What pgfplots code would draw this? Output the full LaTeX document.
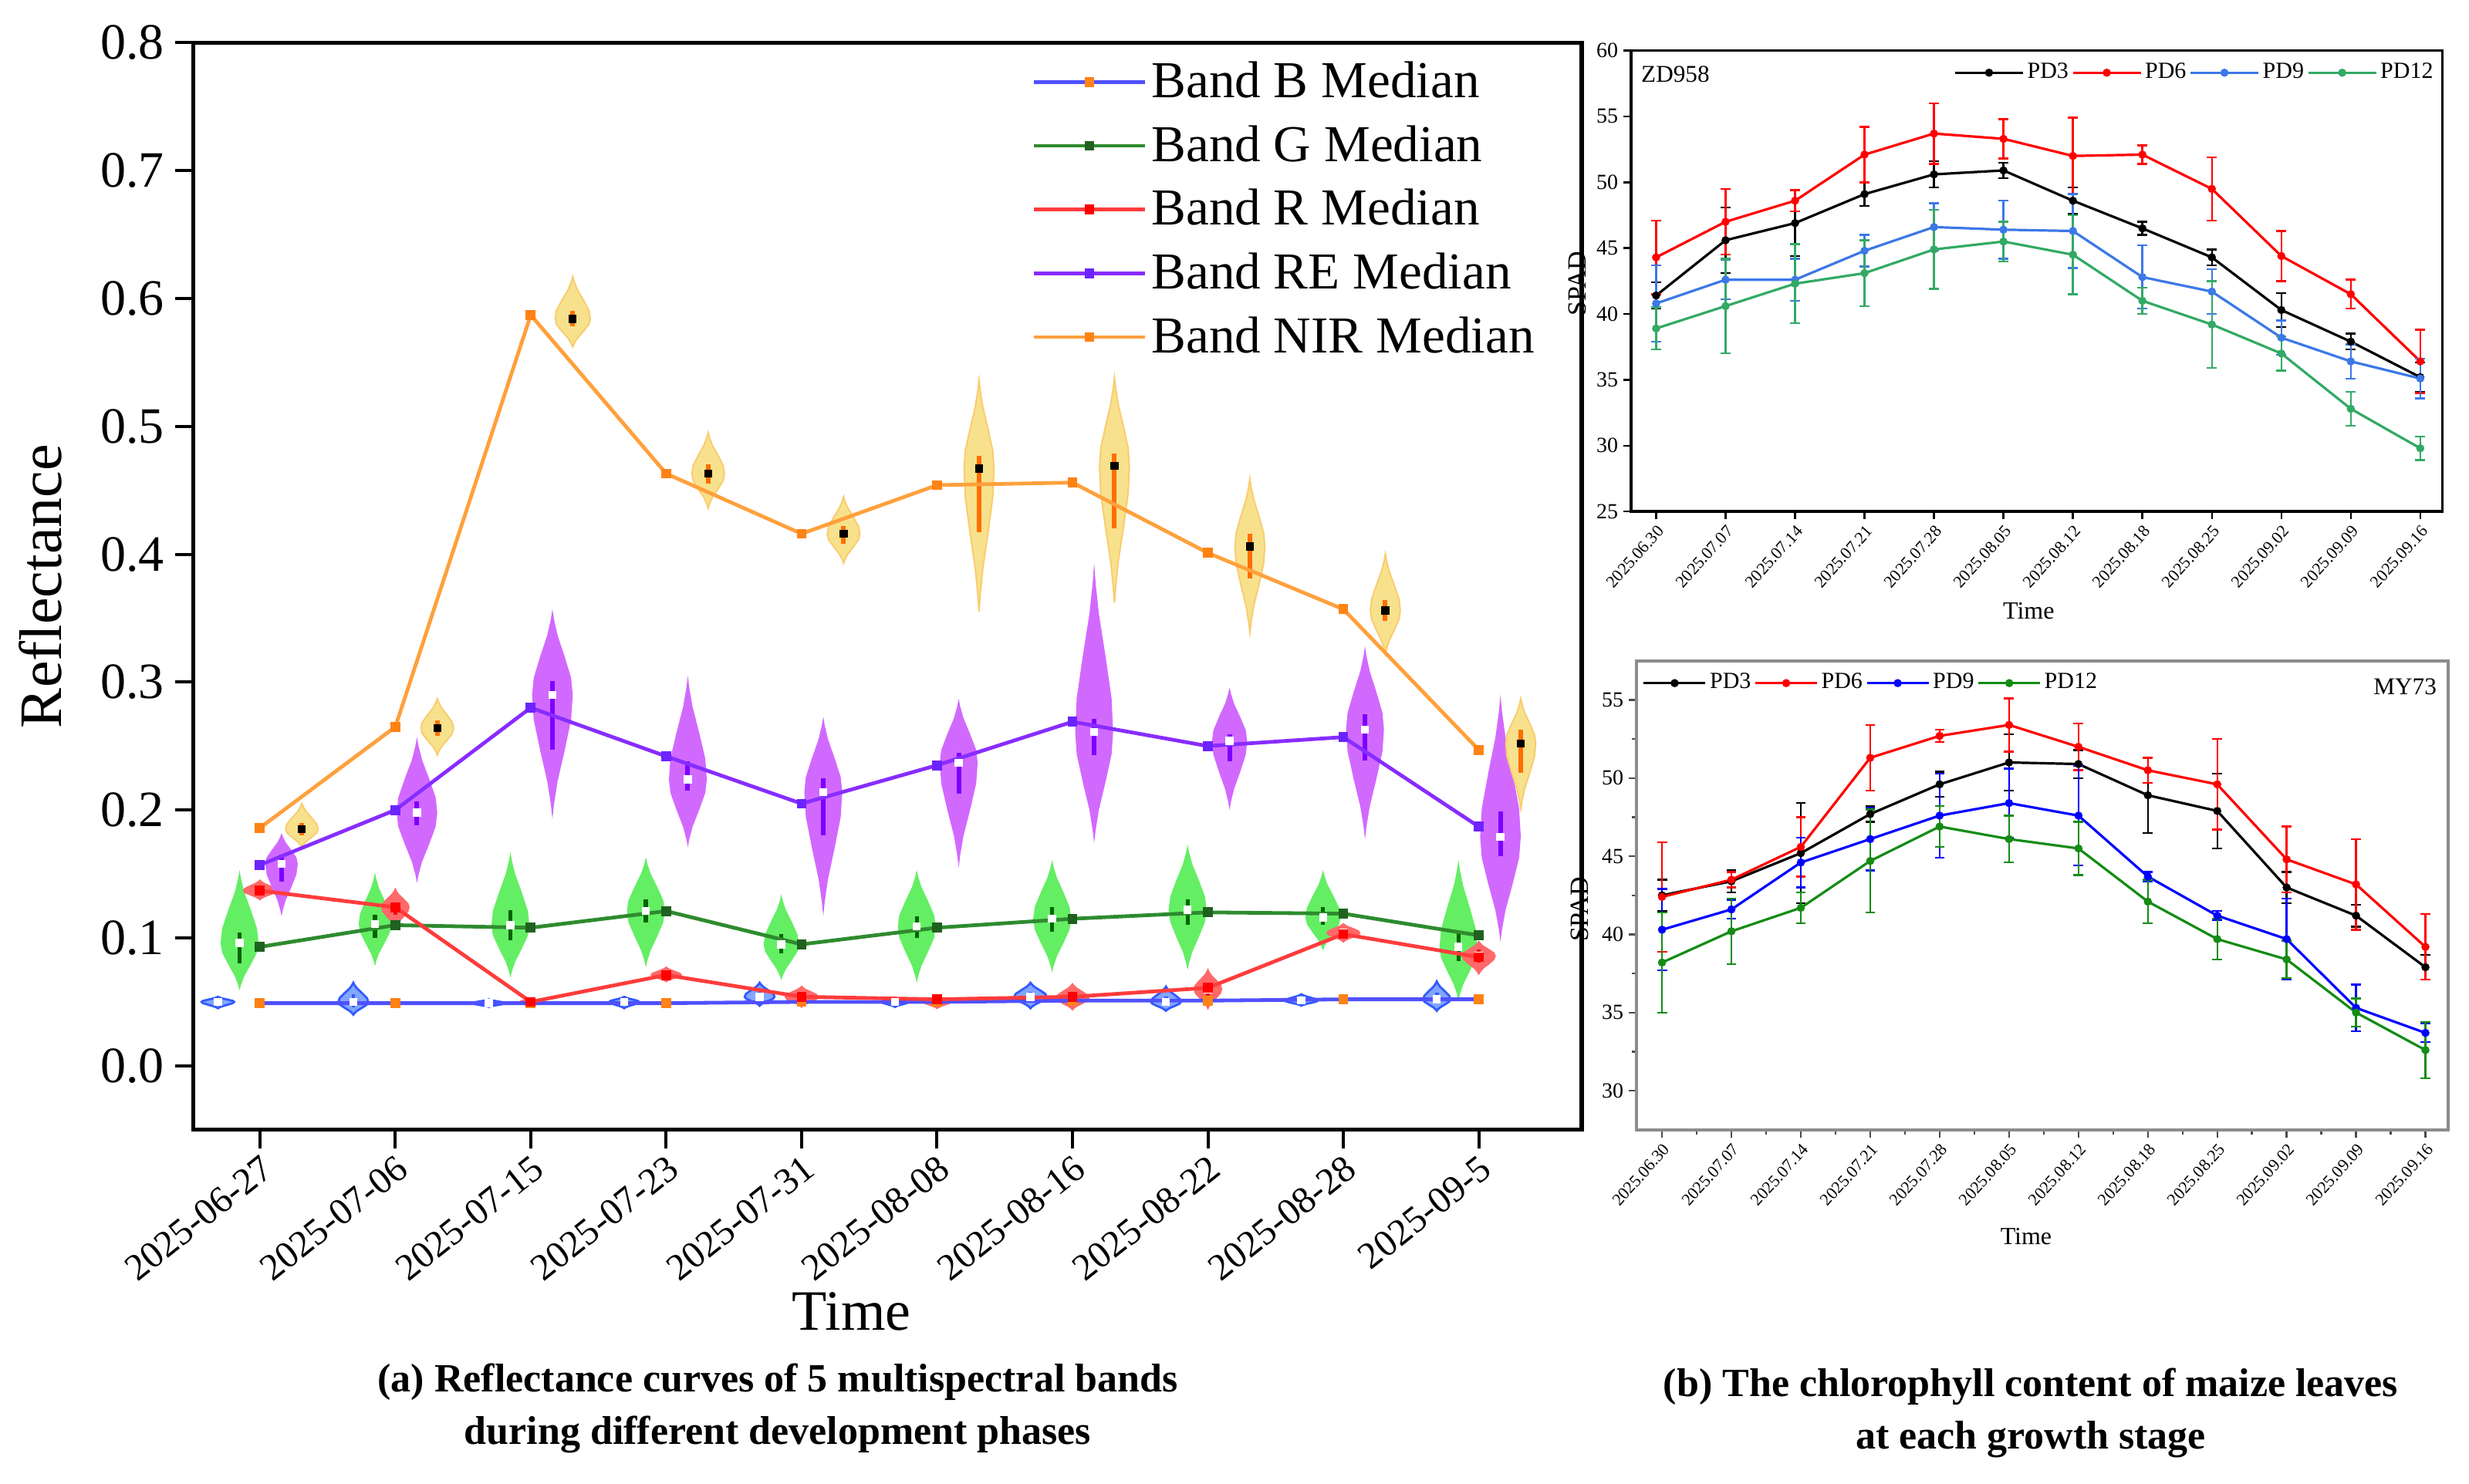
\documentclass[border=0pt]{standalone}
\usepackage{fontspec}
\setmainfont{Liberation Serif}
\usepackage{pgfplots}
\usepackage{pgfplotstable}
\pgfplotsset{compat=1.18}

\definecolor{lineB}{RGB}{80,80,255}
\definecolor{lineG}{RGB}{46,139,46}
\definecolor{lineR}{RGB}{255,60,60}
\definecolor{lineRE}{RGB}{135,45,255}
\definecolor{lineNIR}{RGB}{255,160,60}
\definecolor{markNIR}{RGB}{255,130,20}
\definecolor{vBfill}{RGB}{130,165,255}
\definecolor{vBdraw}{RGB}{50,90,255}
\definecolor{vGfill}{RGB}{100,238,100}
\definecolor{vGbar}{RGB}{0,100,0}
\definecolor{vRfill}{RGB}{255,105,105}
\definecolor{vRbar}{RGB}{230,20,20}
\definecolor{vREfill}{RGB}{210,105,255}
\definecolor{vREbar}{RGB}{125,0,255}
\definecolor{vNIRfill}{RGB}{248,225,140}
\definecolor{vNIRbar}{RGB}{255,110,0}
\definecolor{zdPDnine}{RGB}{60,120,230}
\definecolor{zdPDtwelve}{RGB}{50,170,100}
\definecolor{myPDtwelve}{RGB}{20,140,20}

% median lines
\pgfplotstableread{
i B G R RE NIR
0 0.049 0.093 0.137 0.157 0.186
1 0.049 0.110 0.124 0.200 0.265
2 0.049 0.108 0.050 0.280 0.587
3 0.049 0.121 0.071 0.242 0.463
4 0.050 0.095 0.054 0.205 0.416
5 0.050 0.108 0.052 0.235 0.454
6 0.051 0.115 0.054 0.269 0.456
7 0.051 0.120 0.061 0.250 0.401
8 0.052 0.119 0.103 0.257 0.357
9 0.052 0.102 0.085 0.187 0.247
}\medians

% violins: x lo q1 med q3 hi halfwidth
\pgfplotstableread{
x lo qa med qb hi w
-0.31 0.045 0.048 0.050 0.052 0.054 0.12
0.69 0.040 0.046 0.050 0.056 0.065 0.11
1.69 0.046 0.048 0.049 0.050 0.052 0.12
2.69 0.045 0.048 0.050 0.052 0.054 0.11
3.69 0.047 0.051 0.054 0.058 0.065 0.11
4.69 0.046 0.048 0.050 0.051 0.053 0.10
5.69 0.045 0.050 0.054 0.058 0.065 0.12
6.69 0.043 0.047 0.050 0.054 0.062 0.11
7.69 0.047 0.049 0.051 0.053 0.056 0.12
8.69 0.043 0.049 0.052 0.057 0.066 0.10
}\tabB
\pgfplotstableread{
x lo qa med qb hi w
-0.15 0.059 0.080 0.096 0.104 0.153 0.14
0.85 0.078 0.100 0.111 0.118 0.151 0.12
1.85 0.069 0.098 0.110 0.122 0.167 0.14
2.85 0.077 0.112 0.121 0.130 0.163 0.14
3.85 0.067 0.088 0.095 0.103 0.134 0.13
4.85 0.065 0.100 0.109 0.117 0.153 0.14
5.85 0.073 0.105 0.115 0.124 0.161 0.14
6.85 0.075 0.110 0.122 0.130 0.173 0.14
7.85 0.090 0.110 0.116 0.124 0.153 0.13
8.85 0.051 0.082 0.093 0.104 0.161 0.14
}\tabG
\pgfplotstableread{
x lo qa med qb hi w
0 0.130 0.134 0.137 0.140 0.145 0.12
1 0.108 0.118 0.124 0.128 0.138 0.10
2 0.046 0.048 0.050 0.051 0.053 0.08
3 0.066 0.069 0.071 0.073 0.077 0.11
4 0.046 0.051 0.054 0.057 0.062 0.12
5 0.045 0.048 0.050 0.051 0.053 0.10
6 0.044 0.050 0.053 0.057 0.064 0.12
7 0.045 0.055 0.060 0.065 0.075 0.10
8 0.097 0.101 0.104 0.106 0.111 0.12
9 0.072 0.081 0.086 0.091 0.097 0.12
}\tabR
\pgfplotstableread{
x lo qa med qb hi w
0.16 0.117 0.144 0.158 0.165 0.182 0.12
1.16 0.143 0.188 0.198 0.207 0.257 0.15
2.16 0.193 0.247 0.290 0.301 0.357 0.15
3.16 0.171 0.215 0.224 0.238 0.305 0.14
4.16 0.117 0.180 0.214 0.225 0.273 0.14
5.16 0.155 0.213 0.237 0.245 0.287 0.14
6.16 0.174 0.243 0.261 0.271 0.393 0.14
7.16 0.200 0.238 0.254 0.259 0.296 0.13
8.16 0.177 0.239 0.263 0.275 0.328 0.14
9.16 0.097 0.164 0.179 0.199 0.290 0.15
}\tabRE
\pgfplotstableread{
x lo qa med qb hi w
0.31 0.171 0.180 0.185 0.190 0.205 0.12
1.31 0.243 0.258 0.264 0.270 0.287 0.12
2.31 0.562 0.578 0.584 0.590 0.617 0.13
3.31 0.436 0.455 0.463 0.470 0.495 0.12
4.31 0.393 0.408 0.416 0.422 0.445 0.12
5.31 0.355 0.417 0.467 0.477 0.536 0.11
6.31 0.362 0.420 0.469 0.479 0.538 0.11
7.31 0.339 0.381 0.406 0.416 0.459 0.11
8.31 0.322 0.348 0.356 0.364 0.400 0.11
9.31 0.201 0.229 0.252 0.263 0.287 0.11
}\tabNIR

% SPAD data
\pgfplotstableread{
x PDa ea PDb eb PDc ec PDd ed
0 41.4 1.0 44.3 2.8 40.8 2.9 38.9 1.6
1 45.6 2.5 47.0 2.5 42.6 1.5 40.6 3.6
2 46.9 2.5 48.6 0.8 42.6 1.6 42.3 3.0
3 49.1 0.9 52.1 2.1 44.8 1.2 43.1 2.5
4 50.6 1.0 53.7 2.3 46.6 1.8 44.9 3.0
5 50.9 0.6 53.3 1.5 46.4 2.2 45.5 1.5
6 48.6 1.0 52.0 2.9 46.3 2.8 44.5 3.0
7 46.5 0.5 52.1 0.7 42.8 2.4 41.0 1.0
8 44.3 0.6 49.5 2.4 41.7 1.7 39.2 3.3
9 40.3 1.3 44.4 1.9 38.2 1.3 37.0 1.3
10 37.9 0.6 41.5 1.1 36.4 1.3 32.8 1.3
11 35.2 1.1 36.4 2.4 35.1 1.5 29.8 0.9
}\zd
\pgfplotstableread{
x PDa ea PDb eb PDc ec PDd ed
0 42.5 1.0 42.4 3.5 40.3 2.6 38.2 3.2
1 43.4 0.7 43.5 0.5 41.6 0.6 40.2 2.1
2 45.2 3.2 45.6 1.9 44.6 1.6 41.7 1.0
3 47.7 0.5 51.3 2.1 46.1 2.0 44.7 3.3
4 49.6 0.8 52.7 0.4 47.6 2.7 46.9 1.3
5 51.0 1.8 53.4 1.7 48.4 2.2 46.1 1.5
6 50.9 0.9 52.0 1.5 47.6 3.2 45.5 1.7
7 48.9 2.4 50.5 0.8 43.7 0.3 42.1 1.4
8 47.9 2.4 49.6 2.9 41.2 0.3 39.7 1.3
9 43.0 1.0 44.8 2.1 39.7 2.6 38.4 1.2
10 41.2 0.7 43.2 2.9 35.3 1.5 35.0 0.9
11 37.9 0.8 39.2 2.1 33.7 0.6 32.6 1.8
}\my

% violin drawn from one table row
\newcommand\violinrow[6]{%
  \pgfplotstablegetelem{#2}{x}\of{#1}\edef\vx{\pgfplotsretval}%
  \pgfplotstablegetelem{#2}{lo}\of{#1}\edef\vlo{\pgfplotsretval}%
  \pgfplotstablegetelem{#2}{qa}\of{#1}\edef\vqa{\pgfplotsretval}%
  \pgfplotstablegetelem{#2}{med}\of{#1}\edef\vmed{\pgfplotsretval}%
  \pgfplotstablegetelem{#2}{qb}\of{#1}\edef\vqb{\pgfplotsretval}%
  \pgfplotstablegetelem{#2}{hi}\of{#1}\edef\vhi{\pgfplotsretval}%
  \pgfplotstablegetelem{#2}{w}\of{#1}\edef\vw{\pgfplotsretval}%
  \pgfmathsetmacro\uA{\vmed+0.2*(\vhi-\vmed)}%
  \pgfmathsetmacro\uB{\vmed+0.45*(\vhi-\vmed)}%
  \pgfmathsetmacro\uC{\vmed+0.7*(\vhi-\vmed)}%
  \pgfmathsetmacro\uD{\vmed+0.88*(\vhi-\vmed)}%
  \pgfmathsetmacro\lA{\vmed-0.2*(\vmed-\vlo)}%
  \pgfmathsetmacro\lB{\vmed-0.45*(\vmed-\vlo)}%
  \pgfmathsetmacro\lC{\vmed-0.7*(\vmed-\vlo)}%
  \pgfmathsetmacro\lD{\vmed-0.88*(\vmed-\vlo)}%
  \pgfmathsetmacro\xRm{\vx+\vw}%
  \pgfmathsetmacro\xRa{\vx+0.92*\vw}%
  \pgfmathsetmacro\xRb{\vx+0.6*\vw}%
  \pgfmathsetmacro\xRc{\vx+0.25*\vw}%
  \pgfmathsetmacro\xRd{\vx+0.08*\vw}%
  \pgfmathsetmacro\xLm{\vx-\vw}%
  \pgfmathsetmacro\xLa{\vx-0.92*\vw}%
  \pgfmathsetmacro\xLb{\vx-0.6*\vw}%
  \pgfmathsetmacro\xLc{\vx-0.25*\vw}%
  \pgfmathsetmacro\xLd{\vx-0.08*\vw}%
  \edef\doviolin{\noexpand\addplot[forget plot,#3] coordinates {(\vx,\vlo) (\xRd,\lD) (\xRc,\lC) (\xRb,\lB) (\xRa,\lA) (\xRm,\vmed) (\xRa,\uA) (\xRb,\uB) (\xRc,\uC) (\xRd,\uD) (\vx,\vhi) (\xLd,\uD) (\xLc,\uC) (\xLb,\uB) (\xLa,\uA) (\xLm,\vmed) (\xLa,\lA) (\xLb,\lB) (\xLc,\lC) (\xLd,\lD)} -- cycle;}%
  \doviolin
  \edef\dobar{\noexpand\addplot[forget plot,#4,line width=#6] coordinates {(\vx,\vqa) (\vx,\vqb)};}%
  \dobar
  \edef\dodot{\noexpand\addplot[forget plot,only marks,mark=square*,mark size=1.1pt,#5] coordinates {(\vx,\vmed)};}%
  \dodot
}

\begin{document}
\begin{tikzpicture}
\useasboundingbox (0,0) rectangle (800pt,481pt);

% ---------------- (a) ----------------
\begin{axis}[
  at={(62.7pt,114.8pt)}, anchor=south west, scale only axis,
  width=449.8pt, height=352.4pt,
  xmin=-0.49, xmax=9.76, ymin=-0.05, ymax=0.8,
  xtick={0,1,2,3,4,5,6,7,8,9},
  xticklabels={2025-06-27,2025-07-06,2025-07-15,2025-07-23,2025-07-31,2025-08-08,2025-08-16,2025-08-22,2025-08-28,2025-09-5},
  ytick={0,0.1,0.2,0.3,0.4,0.5,0.6,0.7,0.8},
  tick align=outside, xtick pos=bottom, ytick pos=left,
  major tick length=6pt,
  tick style={black, line width=1pt},
  axis line style={line width=1.3pt},
  x tick label style={rotate=38.5, anchor=north east, font=\fontsize{12.2}{14}\selectfont, inner sep=1pt},
  y tick label style={font=\fontsize{16.5}{18}\selectfont},
  yticklabel style={/pgf/number format/.cd, fixed, precision=1, fixed zerofill, assume math mode=true},
  xlabel={Time}, ylabel={Reflectance},
  xlabel style={font=\fontsize{18.5}{20}\selectfont, at={(axis description cs:0.474,-0.167)}, anchor=center},
  ylabel style={font=\fontsize{19.5}{21}\selectfont, at={(axis description cs:-0.11,0.5)}, anchor=center},
  legend style={draw=none, fill=none, at={(0.972,0.99)}, anchor=north east,
    font=\fontsize{16.8}{19}\selectfont, row sep=4.5pt, inner sep=1pt,
    nodes={inner sep=1.5pt}},
  legend cell align=left,
  legend image code/.code={\draw[mark repeat=2,mark phase=2,#1] plot coordinates {(0pt,0pt) (18pt,0pt) (36pt,0pt)};},
]
\pgfplotsinvokeforeach{0,...,9}{\violinrow{\tabB}{#1}{fill=vBfill,draw=vBdraw,line width=0.7pt}{vBdraw}{white}{1.2pt}}
\pgfplotsinvokeforeach{0,...,9}{\violinrow{\tabG}{#1}{fill=vGfill,draw=none}{vGbar}{white}{1.3pt}}
\pgfplotsinvokeforeach{0,...,9}{\violinrow{\tabR}{#1}{fill=vRfill,draw=vRfill,line width=0.5pt}{vRbar}{white}{1.2pt}}
\pgfplotsinvokeforeach{0,...,9}{\violinrow{\tabRE}{#1}{fill=vREfill,draw=none}{vREbar}{white}{1.5pt}}
\pgfplotsinvokeforeach{0,...,9}{\violinrow{\tabNIR}{#1}{fill=vNIRfill,draw=vNIRfill!80!orange,line width=0.5pt}{vNIRbar}{black}{1.5pt}}

\addplot[lineB, line width=1.2pt, mark=square*, mark size=1pt, mark options={fill=markNIR,draw=markNIR}] table[x=i,y=B]{\medians};
\addlegendentry{Band B Median}
\addplot[lineG, line width=1.2pt, mark=square*, mark size=1pt, mark options={fill=lineG!70!black,draw=lineG!70!black}] table[x=i,y=G]{\medians};
\addlegendentry{Band G Median}
\addplot[lineR, line width=1.2pt, mark=square*, mark size=1pt, mark options={fill=red,draw=red}] table[x=i,y=R]{\medians};
\addlegendentry{Band R Median}
\addplot[lineRE, line width=1.2pt, mark=square*, mark size=1pt, mark options={fill=lineRE!80!blue,draw=lineRE!80!blue}] table[x=i,y=RE]{\medians};
\addlegendentry{Band RE Median}
\addplot[lineNIR, line width=1.2pt, mark=square*, mark size=1pt, mark options={fill=markNIR,draw=markNIR}] table[x=i,y=NIR]{\medians};
\addlegendentry{Band NIR Median}
\end{axis}

% ---------------- (b) top: ZD958 ----------------
\begin{axis}[
  at={(528.5pt,315.2pt)}, anchor=south west, scale only axis,
  width=262.9pt, height=149.4pt,
  xmin=-0.36, xmax=11.32, ymin=25, ymax=60,
  xtick={0,1,2,3,4,5,6,7,8,9,10,11},
  xticklabels={2025.06.30,2025.07.07,2025.07.14,2025.07.21,2025.07.28,2025.08.05,2025.08.12,2025.08.18,2025.08.25,2025.09.02,2025.09.09,2025.09.16},
  ytick={25,30,35,40,45,50,55,60},
  tick align=outside, xtick pos=bottom, ytick pos=left,
  major tick length=2.5pt,
  tick style={black, line width=0.6pt},
  axis line style={line width=0.9pt},
  x tick label style={rotate=48, anchor=north east, font=\fontsize{5.5}{6}\selectfont, inner sep=1pt},
  y tick label style={font=\fontsize{7}{8}\selectfont, inner sep=1.5pt},
  yticklabel style={/pgf/number format/assume math mode=true},
  xlabel={Time}, ylabel={SPAD},
  xlabel style={font=\fontsize{8}{9}\selectfont, at={(axis description cs:0.49,-0.215)}, anchor=center},
  ylabel style={font=\fontsize{8.5}{9}\selectfont, at={(axis description cs:-0.066,0.495)}, anchor=center},
  legend columns=4,
  legend style={draw=none, fill=none, at={(0.995,0.985)}, anchor=north east,
    font=\fontsize{7.5}{8}\selectfont, inner sep=0.5pt, nodes={inner sep=1pt}},
  legend image code/.code={\draw[mark repeat=2,mark phase=2,#1] plot coordinates {(0pt,0pt) (11pt,0pt) (22pt,0pt)};},
]
\addplot[black, line width=0.8pt, mark=*, mark size=0.9pt, error bars/.cd, y dir=both, y explicit, error bar style={line width=0.6pt}, error mark options={rotate=90, mark size=1.6pt, line width=0.6pt}] table[x=x,y=PDa,y error=ea]{\zd};
\addlegendentry{PD3}
\addplot[red, line width=0.8pt, mark=*, mark size=0.9pt, error bars/.cd, y dir=both, y explicit, error bar style={line width=0.6pt}, error mark options={rotate=90, mark size=1.6pt, line width=0.6pt}] table[x=x,y=PDb,y error=eb]{\zd};
\addlegendentry{PD6}
\addplot[zdPDnine, line width=0.8pt, mark=*, mark size=0.9pt, error bars/.cd, y dir=both, y explicit, error bar style={line width=0.6pt}, error mark options={rotate=90, mark size=1.6pt, line width=0.6pt}] table[x=x,y=PDc,y error=ec]{\zd};
\addlegendentry{PD9}
\addplot[zdPDtwelve, line width=0.8pt, mark=*, mark size=0.9pt, error bars/.cd, y dir=both, y explicit, error bar style={line width=0.6pt}, error mark options={rotate=90, mark size=1.6pt, line width=0.6pt}] table[x=x,y=PDd,y error=ed]{\zd};
\addlegendentry{PD12}
\node[anchor=north west, font=\fontsize{7.8}{8}\selectfont, inner sep=1pt] at (rel axis cs:0.008,0.975) {ZD958};
\end{axis}

% ---------------- (b) bottom: MY73 ----------------
\begin{axis}[
  at={(530.2pt,114.8pt)}, anchor=south west, scale only axis,
  width=263.1pt, height=152pt,
  xmin=-0.37, xmax=11.33, ymin=27.5, ymax=57.5,
  xtick={0,1,2,3,4,5,6,7,8,9,10,11},
  xticklabels={2025.06.30,2025.07.07,2025.07.14,2025.07.21,2025.07.28,2025.08.05,2025.08.12,2025.08.18,2025.08.25,2025.09.02,2025.09.09,2025.09.16},
  ytick={30,35,40,45,50,55},
  minor x tick num=1, minor y tick num=1,
  tick align=outside, xtick pos=bottom, ytick pos=left,
  major tick length=2.5pt, minor tick length=1.5pt,
  tick style={black!70, line width=0.6pt},
  axis line style={line width=0.9pt, black!45},
  x tick label style={rotate=48, anchor=north east, font=\fontsize{5.5}{6}\selectfont, inner sep=1pt},
  y tick label style={font=\fontsize{7}{8}\selectfont, inner sep=1.5pt},
  yticklabel style={/pgf/number format/assume math mode=true},
  xlabel={Time}, ylabel={SPAD},
  xlabel style={font=\fontsize{8}{9}\selectfont, at={(axis description cs:0.48,-0.228)}, anchor=center},
  ylabel style={font=\fontsize{8.5}{9}\selectfont, at={(axis description cs:-0.07,0.47)}, anchor=center},
  legend columns=4,
  legend style={draw=none, fill=none, at={(0.005,0.985)}, anchor=north west,
    font=\fontsize{7.5}{8}\selectfont, inner sep=0.5pt, nodes={inner sep=1pt}},
  legend image code/.code={\draw[mark repeat=2,mark phase=2,#1] plot coordinates {(0pt,0pt) (10pt,0pt) (20pt,0pt)};},
]
\addplot[black, line width=0.8pt, mark=*, mark size=0.9pt, error bars/.cd, y dir=both, y explicit, error bar style={line width=0.6pt}, error mark options={rotate=90, mark size=1.6pt, line width=0.6pt}] table[x=x,y=PDa,y error=ea]{\my};
\addlegendentry{PD3}
\addplot[red, line width=0.8pt, mark=*, mark size=0.9pt, error bars/.cd, y dir=both, y explicit, error bar style={line width=0.6pt}, error mark options={rotate=90, mark size=1.6pt, line width=0.6pt}] table[x=x,y=PDb,y error=eb]{\my};
\addlegendentry{PD6}
\addplot[blue, line width=0.8pt, mark=*, mark size=0.9pt, error bars/.cd, y dir=both, y explicit, error bar style={line width=0.6pt}, error mark options={rotate=90, mark size=1.6pt, line width=0.6pt}] table[x=x,y=PDc,y error=ec]{\my};
\addlegendentry{PD9}
\addplot[myPDtwelve, line width=0.8pt, mark=*, mark size=0.9pt, error bars/.cd, y dir=both, y explicit, error bar style={line width=0.6pt}, error mark options={rotate=90, mark size=1.6pt, line width=0.6pt}] table[x=x,y=PDd,y error=ed]{\my};
\addlegendentry{PD12}
\node[anchor=north east, font=\fontsize{7.8}{8}\selectfont, inner sep=1pt] at (rel axis cs:0.99,0.97) {MY73};
\end{axis}

% captions
\node[align=center, font=\bfseries\fontsize{13}{17}\selectfont] at (252pt,24.5pt)
  {(a) Reflectance curves of 5 multispectral bands\\during different development phases};
\node[align=center, font=\bfseries\fontsize{13}{17}\selectfont] at (658pt,23pt)
  {(b) The chlorophyll content of maize leaves\\at each growth stage};
\end{tikzpicture}
\end{document}
